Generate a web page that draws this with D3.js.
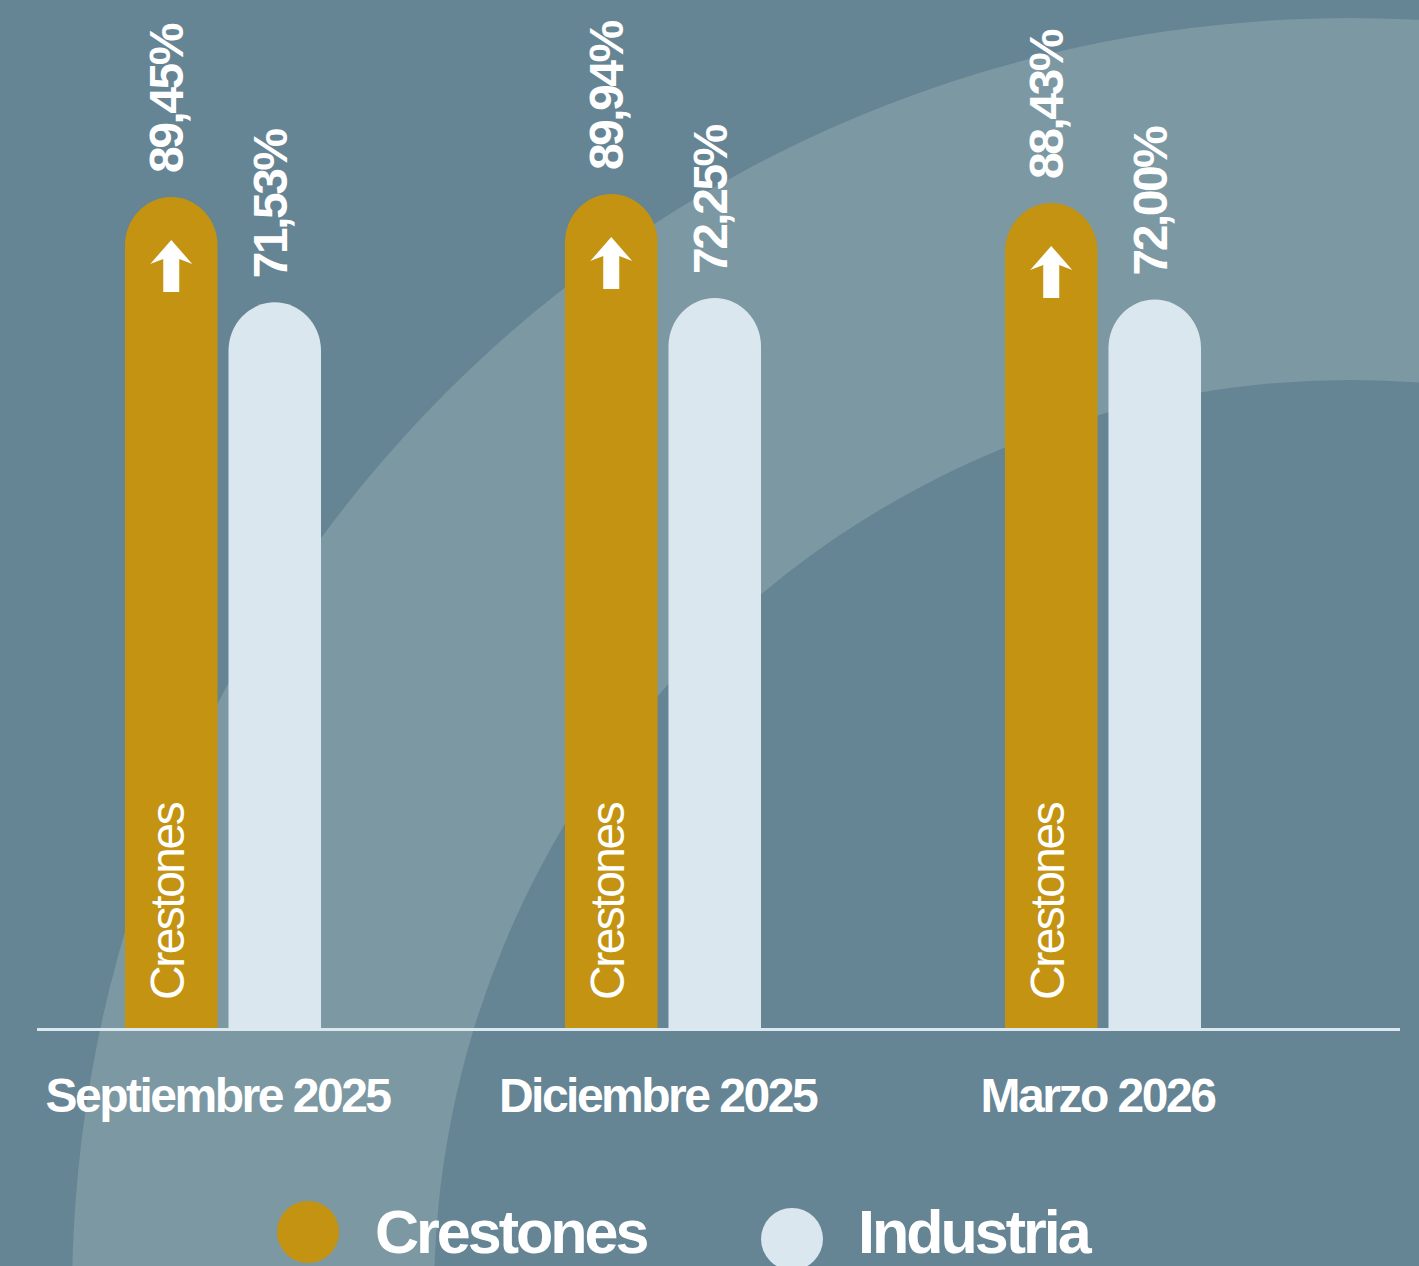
<!DOCTYPE html>
<html><head><meta charset="utf-8">
<script src="https://cdn.jsdelivr.net/npm/d3@7"></script>
<style>html,body{margin:0;padding:0;background:#658494;overflow:hidden}svg{display:block}</style>
</head><body>
<svg id="c" width="1419" height="1266"></svg>
<script>
const categories = ["Septiembre 2025", "Diciembre 2025", "Marzo 2026"];
const seriesNames = ["Crestones", "Industria"];
const crestones = [89.45, 89.94, 88.43];
const industria = [71.53, 72.25, 72.00];
const valueLabels = { Crestones: ["89,45%", "89,94%", "88,43%"], Industria: ["71,53%", "72,25%", "72,00%"] };

const colors = { Crestones: "#C39311", Industria: "#DAE7EF" };
const W = 1419, H = 1266;
const svg = d3.select("#c");
const font = "'Liberation Sans', Arial, Helvetica, sans-serif";

// background
svg.append("rect").attr("width", W).attr("height", H).attr("fill", "#658494");
const arcCx = 1350, arcCy = 1296;
svg.append("path")
  .attr("transform", `translate(${arcCx},${arcCy})`)
  .attr("d", d3.arc()({innerRadius: 916, outerRadius: 1278, startAngle: -Math.PI, endAngle: Math.PI}))
  .attr("fill", "#7B98A3");

const baseY = 1028;
const y = d3.scaleLinear().domain([-52, 100]).range([baseY, 135]);
const x0 = d3.scaleBand().domain(categories).range([125, 1201]).paddingInner(0.5545).paddingOuter(0);
const x1 = d3.scaleBand().domain(seriesNames).range([0, x0.bandwidth()]).paddingInner(0.106);

const data = categories.map((c, i) => ({ cat: c, values: [
  { key: "Crestones", v: crestones[i], label: valueLabels.Crestones[i] },
  { key: "Industria", v: industria[i], label: valueLabels.Industria[i] }
]}));

function barPath(x, w, top, bottom) {
  const rx = w / 2, ry = rx * 1.05;
  return `M${x},${bottom}V${top + ry}A${rx},${ry} 0 0 1 ${x + w},${top + ry}V${bottom}Z`;
}

const groups = svg.selectAll("g.grp").data(data).join("g")
  .attr("class", "grp").attr("transform", d => `translate(${x0(d.cat)},0)`);

groups.selectAll("path.bar").data(d => d.values).join("path")
  .attr("class", "bar")
  .attr("d", d => barPath(x1(d.key), x1.bandwidth(), y(d.v), baseY))
  .attr("fill", d => colors[d.key]);

// value labels (rotated)
groups.selectAll("text.val").data(d => d.values).join("text")
  .attr("class", "val")
  .attr("transform", d => `translate(${x1(d.key) + x1.bandwidth() / 2 + 12},${y(d.v) - 24}) rotate(-90)`)
  .attr("font-family", font).attr("font-weight", "bold").attr("font-size", 48)
  .attr("letter-spacing", -2.5)
  .attr("fill", "#ffffff")
  .text(d => d.label);

// inside labels + arrow for Crestones
groups.each(function(d) {
  const g = d3.select(this);
  const c = d.values[0];
  const cx = x1(c.key) + x1.bandwidth() / 2;
  g.append("text")
    .attr("transform", `translate(${cx + 13},${baseY - 28}) rotate(-90)`)
    .attr("font-family", font).attr("font-size", 48).attr("letter-spacing", -2.5)
    .attr("fill", "#ffffff")
    .text(c.key);
  const t = y(c.v) + 43;
  g.append("path")
    .attr("d", `M${cx},${t}L${cx + 21},${t + 24}L${cx + 8},${t + 19}V${t + 52}H${cx - 8}V${t + 19}L${cx - 21},${t + 24}Z`)
    .attr("fill", "#ffffff");
});

// baseline
svg.append("line").attr("x1", 37).attr("x2", 1400).attr("y1", baseY + 1.5).attr("y2", baseY + 1.5)
  .attr("stroke", "#DCE8F0").attr("stroke-width", 3);

// category labels
svg.selectAll("text.cat").data(categories).join("text")
  .attr("class", "cat")
  .attr("x", d => x0(d) + x1.bandwidth())
  .attr("y", 1112)
  .attr("text-anchor", "middle")
  .attr("font-family", font).attr("font-weight", "bold").attr("font-size", 48)
  .attr("letter-spacing", -2.5)
  .attr("fill", "#ffffff")
  .text(d => d);

// legend
const legend = [
  { key: "Crestones", cx: 308, cy: 1232, tx: 375 },
  { key: "Industria", cx: 792, cy: 1239, tx: 858 }
];
const lg = svg.selectAll("g.lg").data(legend).join("g").attr("class", "lg");
lg.append("circle").attr("cx", d => d.cx).attr("cy", d => d.cy).attr("r", 31).attr("fill", d => colors[d.key]);
lg.append("text").attr("x", d => d.tx).attr("y", 1253)
  .attr("font-family", font).attr("font-weight", "bold").attr("font-size", 61)
  .attr("letter-spacing", -3).attr("fill", "#ffffff")
  .text(d => d.key);
</script>
</body></html>
